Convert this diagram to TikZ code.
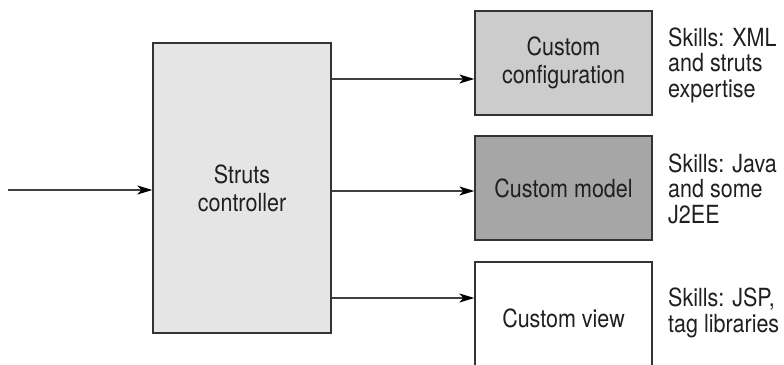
\documentclass[tikz,border=0pt]{standalone}
\usepackage{fontspec}
\setmainfont{TeX Gyre Heros}[FakeStretch=0.86]
\usetikzlibrary{arrows.meta}
\begin{document}
\begin{tikzpicture}[x=1pt,y=-1pt,
  box/.style={draw=black!80,line width=1.3pt,inner sep=0pt,align=center,
    font=\fontsize{25}{28}\selectfont,text=black!88},
  skill/.style={anchor=base west,inner sep=0pt,align=left,
    font=\fontsize{25}{25.2}\selectfont,text=black!88},
  arr/.style={draw=black!75,line width=1.5pt,
    -{Stealth[length=15pt,width=9pt,inset=4pt,color=black]}}]
\useasboundingbox (0,0) rectangle (784,364);
\node[box,fill=black!10,minimum width=178pt,minimum height=290pt]
  (ctrl) at (242,188) {Struts\\controller};
\node[box,fill=black!20,minimum width=177pt,minimum height=104pt]
  (cfg) at (563.5,63) {Custom\\configuration};
\node[box,fill=black!35,minimum width=177pt,minimum height=104pt]
  (mdl) at (563.5,188) {Custom model};
\node[box,fill=white,minimum width=177pt,minimum height=112pt]
  (view) at (563.5,318) {Custom view};
\node[skill] (s1) at (668,97) {Skills: XML\\and struts\\expertise};
\node[skill] (s2) at (668,223) {Skills: Java\\and some\\J2EE};
\node[skill] (s3) at (668,332) {Skills: JSP,\\tag libraries};
\coordinate (in) at (8,190);
\coordinate (cfgin) at ([yshift=-16pt]cfg.west);
\coordinate (mdlin) at ([yshift=-3pt]mdl.west);
\coordinate (viewin) at ([yshift=20pt]view.west);
\draw[arr] (in) -- (in -| ctrl.west);
\draw[arr] (ctrl.east |- cfgin) -- (cfgin);
\draw[arr] (ctrl.east |- mdlin) -- (mdlin);
\draw[arr] (ctrl.east |- viewin) -- (viewin);
\end{tikzpicture}
\end{document}
